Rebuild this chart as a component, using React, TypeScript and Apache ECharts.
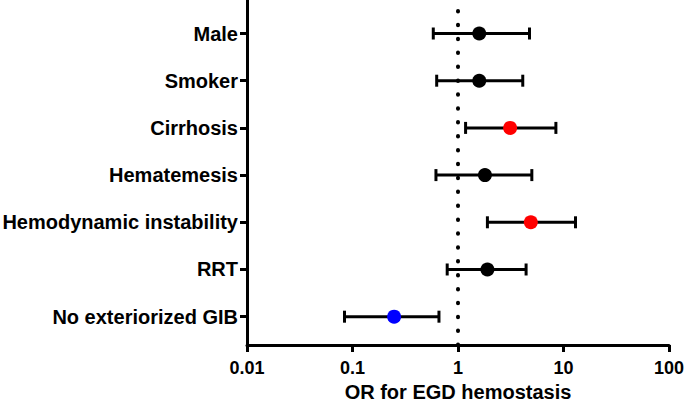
import React, { useEffect, useRef } from "react";
import * as echarts from "echarts";

const categories = [
  "Male",
  "Smoker",
  "Cirrhosis",
  "Hematemesis",
  "Hemodynamic instability",
  "RRT",
  "No exteriorized GIB",
];
const oddsRatio = [1.59, 1.59, 3.12, 1.8, 4.9, 1.9, 0.248];
const ciLow = [0.583, 0.628, 1.18, 0.618, 1.9, 0.79, 0.084];
const ciHigh = [4.76, 4.11, 8.47, 5.01, 13.0, 4.42, 0.66];
const pointColors = ["#000000", "#000000", "#ff0000", "#000000", "#ff0000", "#000000", "#0000ff"];
const xTickValues = [0.01, 0.1, 1, 10, 100];
const yMax = 7.31;
// vertical position of each category row (top row first)
const rowPos = categories.map((_, i) => 6.6 - i);

const FONT = "'Liberation Sans', Arial, Helvetica, sans-serif";

export default function App() {
  const ref = useRef<HTMLDivElement>(null);
  useEffect(() => {
    if (!ref.current) return;
    const chart = echarts.init(ref.current, null, { renderer: "svg" });
    const labelFor = (v: number) => {
      const idx = rowPos.findIndex((p) => Math.abs(p - v) < 1e-6);
      return idx >= 0 ? categories[idx] : "";
    };
    chart.setOption({
      animation: false,
      backgroundColor: "#ffffff",
      grid: { left: 247, right: 16, top: 0, bottom: 57, containLabel: false, outerBoundsMode: "none" },
      xAxis: {
        type: "log",
        logBase: 10,
        min: 0.01,
        max: 100,
        name: "OR for EGD hemostasis",
        nameLocation: "middle",
        nameGap: 37,
        nameTextStyle: { fontFamily: FONT, fontWeight: "bold", fontSize: 20, color: "#000" },
        axisLine: { show: true, lineStyle: { color: "#000", width: 3 } },
        axisTick: { show: true, length: 7, lineStyle: { color: "#000", width: 3 }, customValues: xTickValues },
        minorTick: { show: false },
        splitLine: { show: false },
        axisLabel: {
          customValues: xTickValues,
          margin: 14,
          fontFamily: FONT,
          fontWeight: "bold",
          fontSize: 18,
          color: "#000",
          formatter: (v: number) => String(Number(v.toPrecision(3))),
        },
      },
      yAxis: {
        type: "value",
        min: 0,
        max: yMax,
        axisLine: { show: true, lineStyle: { color: "#000", width: 3 } },
        axisTick: { show: true, length: 7, lineStyle: { color: "#000", width: 3 }, customValues: rowPos },
        splitLine: { show: false },
        axisLabel: {
          customValues: rowPos,
          margin: 9,
          fontFamily: FONT,
          fontWeight: "bold",
          fontSize: 20,
          color: "#000",
          formatter: (v: number) => labelFor(v),
        },
      },
      series: [
        {
          type: "line",
          data: [
            [1, yMax],
            [1, 0],
          ],
          symbol: "none",
          silent: true,
          z: 1,
          lineStyle: { color: "#000", width: 4, type: [0.5, 13.4], cap: "round", dashOffset: 2.9 },
        },
        {
          type: "custom",
          z: 2,
          encode: { x: [0, 1], y: 2 },
          data: categories.map((_, i) => [ciLow[i], ciHigh[i], rowPos[i]]),
          renderItem: (params: any, api: any) => {
            const p0 = api.coord([api.value(0), api.value(2)]);
            const p1 = api.coord([api.value(1), api.value(2)]);
            const h = 6;
            const style = { stroke: "#000", lineWidth: 3, fill: "none" };
            return {
              type: "group",
              children: [
                { type: "line", shape: { x1: p0[0], y1: p0[1], x2: p1[0], y2: p1[1] }, style },
                { type: "line", shape: { x1: p0[0], y1: p0[1] - h, x2: p0[0], y2: p0[1] + h }, style },
                { type: "line", shape: { x1: p1[0], y1: p1[1] - h, x2: p1[0], y2: p1[1] + h }, style },
              ],
            };
          },
        },
        {
          type: "scatter",
          z: 3,
          symbol: "circle",
          symbolSize: 14,
          itemStyle: { opacity: 1 },
          emphasis: { disabled: true },
          data: categories.map((_, i) => ({
            value: [oddsRatio[i], rowPos[i]],
            itemStyle: { color: pointColors[i], opacity: 1 },
          })),
        },
      ],
    });
    return () => chart.dispose();
  }, []);
  return (
    <div
      ref={ref}
      style={{ position: "fixed", left: 0, top: 0, width: 685, height: 402, background: "#fff" }}
    />
  );
}
